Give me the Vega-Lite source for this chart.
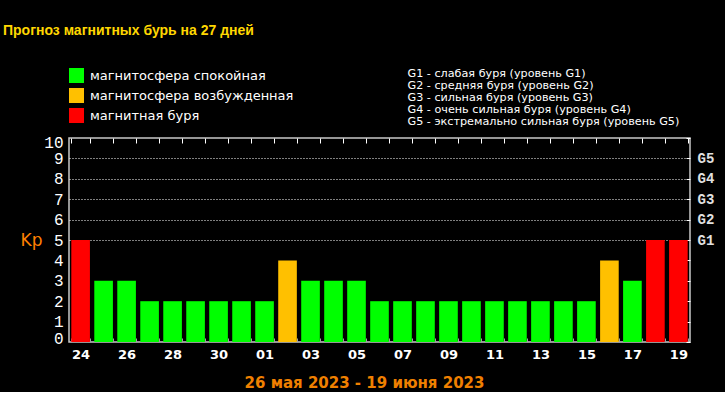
{
  "$schema": "https://vega.github.io/schema/vega-lite/v6.json",
  "width": 621,
  "height": 204,
  "autosize": {"type": "none"},
  "padding": {"left": 69, "top": 138, "right": 35, "bottom": 50},
  "background": "black",
  "title": {
    "text": "Прогноз магнитных бурь на 27 дней",
    "anchor": "start",
    "frame": "group",
    "dx": -66,
    "dy": -14,
    "color": "#FFD700",
    "font": "Liberation Sans",
    "fontSize": 14,
    "fontWeight": "bold",
    "baseline": "alphabetic"
  },
  "config": {
    "view": {"stroke": "#C8C8C8", "strokeWidth": 1.5}
  },
  "data": {
    "values": [
      {"day": "24", "kp": 5, "state": "магнитная буря"},
      {"day": "25", "kp": 3, "state": "магнитосфера спокойная"},
      {"day": "26", "kp": 3, "state": "магнитосфера спокойная"},
      {"day": "27", "kp": 2, "state": "магнитосфера спокойная"},
      {"day": "28", "kp": 2, "state": "магнитосфера спокойная"},
      {"day": "29", "kp": 2, "state": "магнитосфера спокойная"},
      {"day": "30", "kp": 2, "state": "магнитосфера спокойная"},
      {"day": "31", "kp": 2, "state": "магнитосфера спокойная"},
      {"day": "01", "kp": 2, "state": "магнитосфера спокойная"},
      {"day": "02", "kp": 4, "state": "магнитосфера возбужденная"},
      {"day": "03", "kp": 3, "state": "магнитосфера спокойная"},
      {"day": "04", "kp": 3, "state": "магнитосфера спокойная"},
      {"day": "05", "kp": 3, "state": "магнитосфера спокойная"},
      {"day": "06", "kp": 2, "state": "магнитосфера спокойная"},
      {"day": "07", "kp": 2, "state": "магнитосфера спокойная"},
      {"day": "08", "kp": 2, "state": "магнитосфера спокойная"},
      {"day": "09", "kp": 2, "state": "магнитосфера спокойная"},
      {"day": "10", "kp": 2, "state": "магнитосфера спокойная"},
      {"day": "11", "kp": 2, "state": "магнитосфера спокойная"},
      {"day": "12", "kp": 2, "state": "магнитосфера спокойная"},
      {"day": "13", "kp": 2, "state": "магнитосфера спокойная"},
      {"day": "14", "kp": 2, "state": "магнитосфера спокойная"},
      {"day": "15", "kp": 2, "state": "магнитосфера спокойная"},
      {"day": "16", "kp": 4, "state": "магнитосфера возбужденная"},
      {"day": "17", "kp": 3, "state": "магнитосфера спокойная"},
      {"day": "18", "kp": 5, "state": "магнитная буря"},
      {"day": "19", "kp": 5, "state": "магнитная буря"}
    ]
  },
  "layer": [
    {
      "mark": {"type": "bar"},
      "encoding": {
        "x": {
          "field": "day", "type": "nominal", "sort": null,
          "scale": {"paddingInner": 0.19, "paddingOuter": 0.1},
          "axis": {
            "orient": "bottom",
            "title": "26 мая 2023 - 19 июня 2023",
            "labelExpr": "indexof(['24','26','28','30','01','03','05','07','09','11','13','15','17','19'], datum.value) >= 0 ? datum.value : ''",
            "labelAngle": 0,
            "tickBand": "extent",
            "tickSize": -4,
            "tickColor": "#A0A0A0",
            "domain": false,
            "labelColor": "white",
            "labelFont": "DejaVu Sans",
            "labelFontWeight": "bold",
            "labelFontSize": 13,
            "labelPadding": 10,
            "labelOverlap": false,
            "titleColor": "#F08000",
            "titleFont": "DejaVu Sans",
            "titleFontSize": 15,
            "titleFontWeight": "bold",
            "titleX": 295,
            "titleY": 45,
            "titleBaseline": "alphabetic"
          }
        },
        "y": {
          "field": "kp", "type": "quantitative",
          "scale": {"domain": [0, 10], "nice": false},
          "axis": {
            "orient": "left",
            "values": [0, 1, 2, 3, 4, 5, 6, 7, 8, 9, 10],
            "title": "Kp",
            "titleAngle": 0,
            "titleX": -49,
            "titleY": 102,
            "titleAlign": "left",
            "titleBaseline": "middle",
            "titleColor": "#FF8000",
            "titleFont": "DejaVu Sans",
            "titleFontSize": 17,
            "titleFontWeight": "normal",
            "ticks": false,
            "domain": false,
            "labelFlush": false,
            "labelOverlap": false,
            "labelOffset": {"condition": [{"test": "datum.value == 10", "value": 4}, {"test": "datum.value == 0", "value": -3.5}], "value": 0},
            "labelFont": "Liberation Mono",
            "labelFontSize": 16,
            "labelColor": "white",
            "labelPadding": 6,
            "grid": true,
            "gridColor": "white",
            "gridDash": [1, 2],
            "gridOpacity": {"condition": {"test": "datum.value >= 5 && datum.value <= 9", "value": 1}, "value": 0}
          }
        },
        "color": {
          "field": "state", "type": "nominal",
          "scale": {
            "domain": ["магнитосфера спокойная", "магнитосфера возбужденная", "магнитная буря"],
            "range": ["#00FF00", "#FFC000", "#FF0000"]
          },
          "legend": {
            "orient": "none",
            "legendX": 0,
            "legendY": -70,
            "title": null,
            "symbolType": "square",
            "symbolSize": 225,
            "symbolStrokeWidth": 0,
            "symbolOpacity": 1,
            "labelColor": "white",
            "labelFont": "DejaVu Sans",
            "labelFontSize": 13,
            "labelLimit": 400,
            "rowPadding": 5,
            "labelOffset": 6,
            "padding": 0
          }
        }
      }
    },
    {
      "mark": {"type": "bar", "opacity": 0},
      "encoding": {
        "x": {
          "field": "day", "type": "nominal", "sort": null,
          "axis": {
            "orient": "top",
            "labels": false,
            "title": null,
            "tickBand": "extent",
            "tickSize": -5,
            "tickColor": "white",
            "domain": false
          }
        },
        "y": {
          "field": "kp", "type": "quantitative",
          "axis": {
            "orient": "right",
            "values": [0, 1, 2, 3, 4, 5, 6, 7, 8, 9, 10],
            "labelExpr": "datum.value >= 5 && datum.value <= 9 ? 'G' + (datum.value - 4) : ''",
            "labelOverlap": false,
            "tickSize": -4,
            "tickColor": "white",
            "domain": false,
            "grid": false,
            "labelFont": "Liberation Mono",
            "labelFontWeight": "bold",
            "labelFontSize": 14,
            "labelColor": "#E0E0E0",
            "labelPadding": 11,
            "title": [
              "G1 - слабая буря (уровень G1)",
              "G2 - средняя буря (уровень G2)",
              "G3 - сильная буря (уровень G3)",
              "G4 - очень сильная буря (уровень G4)",
              "G5 - экстремально сильная буря (уровень G5)"
            ],
            "titleX": -283,
            "titleY": -71,
            "titleAngle": 0,
            "titleAlign": "left",
            "titleBaseline": "top",
            "titleLineHeight": 12,
            "titleFont": "DejaVu Sans",
            "titleFontSize": 11.2,
            "titleFontWeight": "normal",
            "titleColor": "white"
          }
        }
      }
    }
  ],
  "resolve": {"axis": {"x": "independent", "y": "independent"}}
}
